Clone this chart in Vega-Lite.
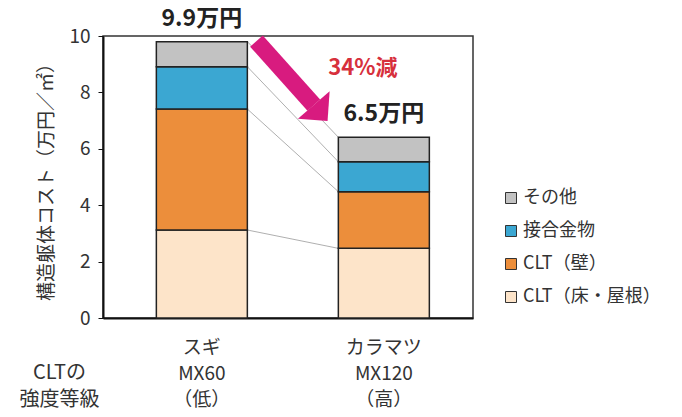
{
  "$schema": "https://vega.github.io/schema/vega-lite/v6.json",
  "width": 370,
  "height": 282,
  "autosize": "none",
  "padding": {"left": 103, "top": 36, "right": 209, "bottom": 99},
  "background": "white",
  "config": {
    "font": "Noto Sans CJK JP",
    "view": {"stroke": "#333", "strokeWidth": 1.5},
    "axisX": {
      "titleX": -44, "titleY": 44, "titleAlign": "center", "titleBaseline": "top",
      "titleAngle": 0, "titleFontSize": 20, "titleFontWeight": "normal", "titleColor": "#333", "titleLineHeight": 27,
      "labelExpr": "datum.value == 'スギ' ? ['スギ', 'MX60', '（低）'] : ['カラマツ', 'MX120', '（高）']",
      "labelAngle": 0, "labelFontSize": 19, "labelColor": "#333", "labelLineHeight": 26, "labelPadding": 20,
      "labelBaseline": "top", "ticks": false, "domainColor": "#111", "domainWidth": 2
    },
    "axisY": {
      "tickCount": 5, "grid": false,
      "titleFontSize": 19, "titleFontWeight": "normal", "titleColor": "#333", "titlePadding": 12,
      "labelFontSize": 19, "labelColor": "#333", "labelPadding": 8, "tickSize": 5, "tickColor": "#111",
      "domainColor": "#111", "domainWidth": 2
    }
  },
  "layer": [
    {
      "data": {"values": [
        {"from": "スギ", "to": "カラマツ", "top1": 9.80, "top2": 6.41},
        {"from": "スギ", "to": "カラマツ", "top1": 8.91, "top2": 5.54},
        {"from": "スギ", "to": "カラマツ", "top1": 7.41, "top2": 4.48},
        {"from": "スギ", "to": "カラマツ", "top1": 3.12, "top2": 2.47}
      ]},
      "mark": {"type": "rule", "stroke": "#9a9a9a", "strokeWidth": 0.8},
      "encoding": {
        "x": {"field": "from", "type": "nominal", "bandPosition": 1, "title": ["CLTの", "強度等級"]},
        "x2": {"field": "to", "bandPosition": 0},
        "y": {"field": "top1", "type": "quantitative", "title": "構造躯体コスト（万円／㎡）"},
        "y2": {"field": "top2"}
      }
    },
    {
      "data": {"values": [
        {"cat": "スギ", "part": "CLT（床・屋根）", "ord": 1, "value": 3.12},
        {"cat": "スギ", "part": "CLT（壁）", "ord": 2, "value": 4.29},
        {"cat": "スギ", "part": "接合金物", "ord": 3, "value": 1.50},
        {"cat": "スギ", "part": "その他", "ord": 4, "value": 0.89},
        {"cat": "カラマツ", "part": "CLT（床・屋根）", "ord": 1, "value": 2.47},
        {"cat": "カラマツ", "part": "CLT（壁）", "ord": 2, "value": 2.01},
        {"cat": "カラマツ", "part": "接合金物", "ord": 3, "value": 1.06},
        {"cat": "カラマツ", "part": "その他", "ord": 4, "value": 0.87}
      ]},
      "mark": {"type": "bar", "stroke": "#222", "strokeWidth": 1.5},
      "encoding": {
        "x": {
          "field": "cat", "type": "nominal", "title": ["CLTの", "強度等級"],
          "scale": {"domain": ["スギ", "カラマツ"], "paddingInner": 0.5, "paddingOuter": 0.2665, "align": 0.55}
        },
        "y": {
          "field": "value", "type": "quantitative", "stack": "zero", "title": "構造躯体コスト（万円／㎡）",
          "scale": {"domain": [0, 10]}
        },
        "color": {
          "field": "part", "type": "nominal",
          "scale": {"domain": ["その他", "接合金物", "CLT（壁）", "CLT（床・屋根）"], "range": ["#C2C2C2", "#3BA7D2", "#EC8E3B", "#FDE4C9"]},
          "legend": {
            "title": null, "orient": "none", "legendX": 399, "legendY": 153, "symbolType": "square", "symbolSize": 121,
            "symbolStrokeColor": "#333", "symbolStrokeWidth": 1, "labelFontSize": 18, "labelColor": "#333",
            "labelOffset": 3, "rowPadding": 15, "padding": 0
          }
        },
        "order": {"field": "ord", "type": "quantitative"}
      }
    },
    {
      "data": {"values": [
        {"cat": "スギ", "total": 9.80, "label": "9.9万円"},
        {"cat": "カラマツ", "total": 6.41, "label": "6.5万円"}
      ]},
      "mark": {"type": "text", "baseline": "bottom", "dy": -11, "fontSize": 23, "fontWeight": "bold", "color": "#222"},
      "encoding": {
        "x": {"field": "cat", "type": "nominal", "title": ["CLTの", "強度等級"]},
        "y": {"field": "total", "type": "quantitative", "title": "構造躯体コスト（万円／㎡）"},
        "text": {"field": "label"}
      }
    },
    {
      "data": {"values": [{}]},
      "mark": {"type": "rule", "stroke": "#D81B7F", "strokeWidth": 17, "strokeCap": "butt"},
      "encoding": {
        "x": {"datum": "スギ", "type": "nominal", "bandPosition": 1.1, "title": ["CLTの", "強度等級"]},
        "x2": {"datum": "カラマツ", "bandPosition": -0.27},
        "y": {"datum": 9.82, "type": "quantitative", "title": "構造躯体コスト（万円／㎡）"},
        "y2": {"datum": 7.55}
      }
    },
    {
      "data": {"values": [{}]},
      "mark": {"type": "point", "shape": "M-1,0L1,0L0,1Z", "size": 1764, "angle": 319, "filled": true, "color": "#D81B7F", "opacity": 1, "strokeWidth": 0},
      "encoding": {
        "x": {"datum": "カラマツ", "type": "nominal", "bandPosition": -0.27, "title": ["CLTの", "強度等級"]},
        "y": {"datum": 7.55, "type": "quantitative", "title": "構造躯体コスト（万円／㎡）"}
      }
    },
    {
      "data": {"values": [{}]},
      "mark": {"type": "text", "text": "34%減", "fontSize": 22, "fontWeight": "bold", "color": "#D7303C"},
      "encoding": {
        "x": {"datum": "カラマツ", "type": "nominal", "bandPosition": 0.27, "title": ["CLTの", "強度等級"]},
        "y": {"datum": 8.87, "type": "quantitative", "title": "構造躯体コスト（万円／㎡）"}
      }
    }
  ]
}
